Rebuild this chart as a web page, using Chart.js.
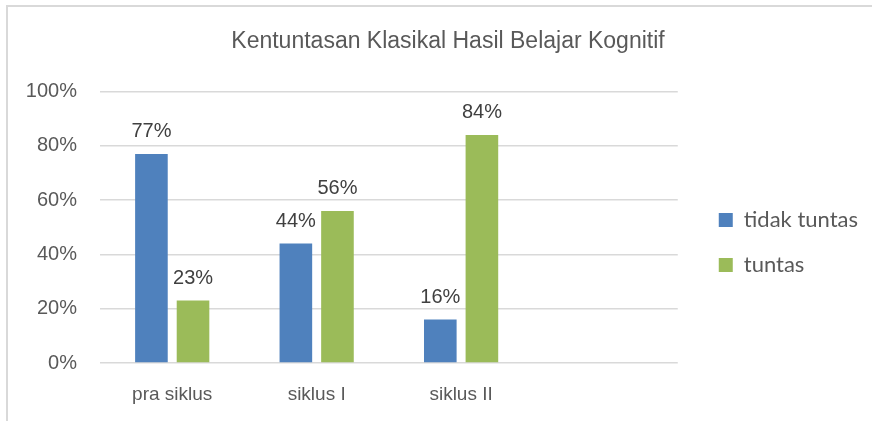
<!DOCTYPE html>
<html>
<head>
<meta charset="utf-8">
<script src="https://cdn.jsdelivr.net/npm/chart.js@4.4.1/dist/chart.umd.min.js"></script>
<style>
    body { margin: 0; background: #fff; }
    #wrap { position: relative; width: 872px; height: 421px; }
    #frame {
        position: absolute; left: 6px; top: 5px; right: 0; bottom: 0;
        border-left: 2px solid #d9d9d9; border-top: 2px solid #d9d9d9;
        pointer-events: none;
    }
</style>
</head>
<body>
<div id="wrap">
    <canvas id="kognitif-chart" width="872" height="421"></canvas>
    <div id="frame"></div>
</div>
<script>
// data (the excel sheet had an empty 4th row)
const kategori = ['pra siklus', 'siklus I', 'siklus II', '']
const tidakTuntas = [77, 44, 16, null]
const tuntas = [23, 56, 84, null]
const yTicks = [0, 20, 40, 60, 80, 100]

const arial = '"Liberation Sans", Arial, sans-serif'

// labels on top of every bar, like excel's data labels
const barLabels = {
    id: 'barLabels',
    afterDatasetsDraw(chart) {
        const ctx = chart.ctx
        ctx.save()
        ctx.font = '20px ' + arial
        ctx.fillStyle = '#404040'
        ctx.textAlign = 'center'
        ctx.textBaseline = 'alphabetic'
        chart.data.datasets.forEach((ds, i) => {
            chart.getDatasetMeta(i).data.forEach((bar, j) => {
                if (ds.data[j] == null) return
                ctx.fillText(ds.data[j] + '%', bar.x, bar.y - 17)
            })
        })
        ctx.restore()
    }
}

// excel puts title and legend a bit off from where chart.js would
const boxNudge = {
    id: 'boxNudge',
    afterLayout(chart) {
        const lg = chart.legend
        lg.left += 18; lg.right += 18
        lg.top += 32; lg.bottom += 32
        const tb = chart.titleBlock
        tb.left += 10; tb.right += 10
    }
}

let ctx = document.getElementById('kognitif-chart')
new Chart(ctx, {
    type: 'bar',
    plugins: [barLabels, boxNudge],
    data: {
        labels: kategori,
        datasets: [{
            label: 'tidak tuntas',
            data: tidakTuntas,
            backgroundColor: '#4f81bd',
        }, {
            label: 'tuntas',
            data: tuntas,
            backgroundColor: '#9bbb59',
        }]
    },
    options: {
        responsive: false,
        animation: false,
        categoryPercentage: 0.576,
        barPercentage: 0.784,
        layout: { padding: { left: 26, right: 22, top: 0, bottom: 0 } },
        plugins: {
            title: {
                display: true,
                text: 'Kentuntasan Klasikal Hasil Belajar Kognitif',
                color: '#595959',
                font: { family: arial, size: 23, weight: 'normal' },
                padding: { top: 28, bottom: 36 }
            },
            legend: {
                position: 'right',
                labels: {
                    boxWidth: 14,
                    boxHeight: 14,
                    padding: 23,
                    color: '#595959',
                    font: { family: 'Lato', size: 22 }
                }
            },
            tooltip: { enabled: false }
        },
        scales: {
            x: {
                grid: { display: false, drawTicks: false },
                border: { display: false },
                ticks: {
                    color: '#595959',
                    padding: 20,
                    font: { family: arial, size: 19 }
                },
                afterFit: (scale) => { scale.height = 58 }
            },
            y: {
                min: yTicks[0],
                max: yTicks[yTicks.length - 1],
                grid: { color: '#d9d9d9', lineWidth: 1.5, drawTicks: false },
                border: { display: false },
                ticks: {
                    stepSize: yTicks[1] - yTicks[0],
                    color: '#595959',
                    padding: 23,
                    font: { family: arial, size: 20 },
                    callback: (v) => v + '%'
                },
                afterFit: (scale) => { scale.width = 74 }
            }
        }
    }
})
</script>
</body>
</html>
